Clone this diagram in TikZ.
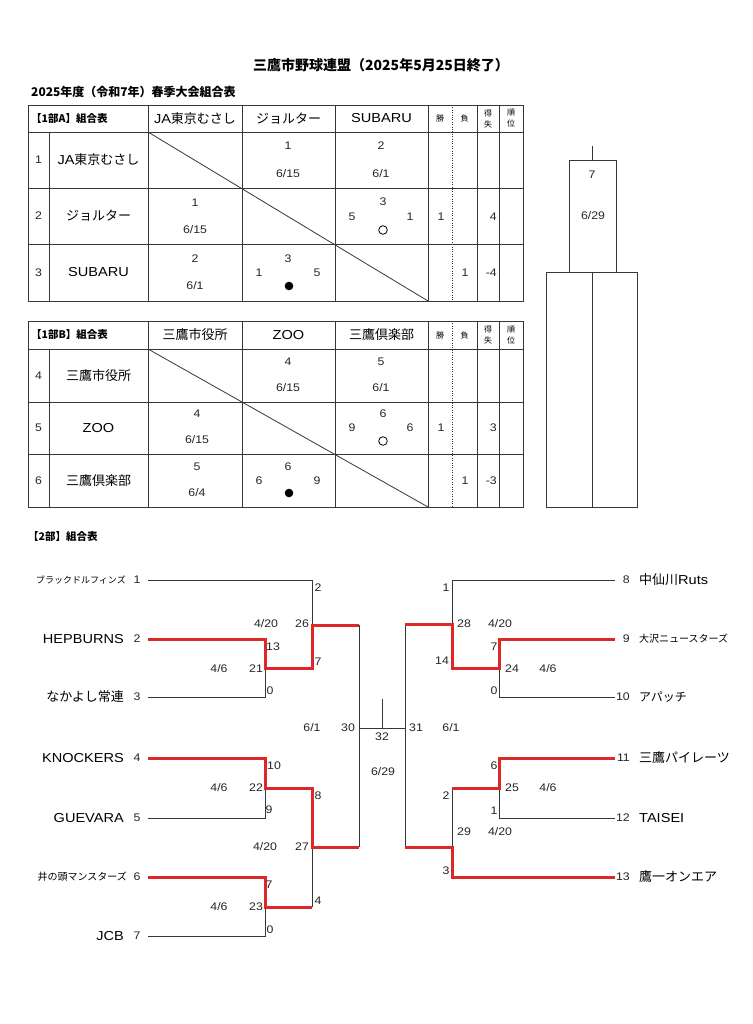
\documentclass[tikz,border=0pt]{standalone}
\usepackage{fontspec}
\setmainfont{Liberation Sans}[FakeStretch = 1.12]
\newfontfamily\jp{Noto Sans CJK JP}
\usetikzlibrary{positioning}

\definecolor{winred}{RGB}{222,40,40}
\definecolor{ink}{RGB}{55,55,55}

\tikzset{
	rule/.style = {line width = 0.8pt, draw = ink},
	link/.style = {line width = 1pt, draw = ink},
	winner/.style = {line width = 3pt, draw = winred},
	score/.style = {inner sep = 0pt, text = black!85, font = \fontsize{11}{12}\selectfont},
	cell/.style = {inner sep = 0pt, font = \jp\fontsize{13}{15}\selectfont},
	roman/.style = {inner sep = 0pt, font = \fontsize{13}{15}\selectfont},
	small/.style = {inner sep = 0pt, align = center, font = \jp\fontsize{8}{11}\selectfont},
	heading/.style = {inner sep = 0pt, anchor = west, font = \jp\bfseries\fontsize{10.5}{12}\selectfont}
}

\begin{document}
\begin{tikzpicture}[x = 1pt, y = -1pt]

	% Page

	\fill [white] (0, 0) rectangle (752, 1024);
	\useasboundingbox (0, 0) rectangle (752, 1024);

	% Titles

	\node [inner sep = 0pt, font = \jp\bfseries\fontsize{14}{16}\selectfont] (title) at (381, 65) {三鷹市野球連盟（2025年5月25日終了）};
	\node [heading, font = \jp\bfseries\fontsize{12}{14}\selectfont] (season) at (31, 92) {2025年度（令和7年）春季大会組合表};

	% Grids of the two league tables

	\foreach \t/\h/\a/\b/\e in {105/132/188/244/301, 321/349/402/454/507}
	{
		\draw [rule] (28, \t) rectangle (523, \e);
		\foreach \y in {\h, \a, \b}
			\draw [rule] (28, \y) -- (523, \y);
		\draw [rule] (49, \h) -- (49, \e);
		\foreach \x in {148, 242, 335, 428, 477, 499}
			\draw [rule] (\x, \t) -- (\x, \e);
		\draw [ink, dotted, thin] (452, \t) -- (452, \e);
		\draw [rule] (148, \h) -- (428, \e);
	}

	% Column heads

	\foreach \y/\s in {118.5/A, 335/B}
	{
		\node [small] (win\s) at (440, \y) {勝};
		\node [small] (loss\s) at (464.5, \y) {負};
		\node [small] (diff\s) at (488, \y) {得\\失};
		\node [small] (rank\s) at (511, \y) {順\\位};
	}

	% Table 1A

	\node [heading] (headA) at (31, 118.5) {【1部A】組合表};
	\node [cell] (colA1) at (195, 118.5) {{\rmfamily JA}東京むさし};
	\node [cell] (colA2) at (288.5, 118.5) {ジョルター};
	\node [roman] (colA3) at (381.5, 118.5) {SUBARU};

	\node [score] (noA1) at (38.5, 160) {1};
	\node [cell] (teamA1) at (98.5, 160) {{\rmfamily JA}東京むさし};
	\node [score] (noA2) at (38.5, 216) {2};
	\node [cell] (teamA2) at (98.5, 216) {ジョルター};
	\node [score] (noA3) at (38.5, 272.5) {3};
	\node [roman] (teamA3) at (98.5, 272.5) {SUBARU};

	\foreach \x/\y/\t [count = \i] in {288/146/1, 288/174/{6/15}, 381/146/2, 381/174/{6/1},
		195/203/1, 195/230/{6/15}, 383/202/3, 352/217/5, 410/217/1, 441/217/1,
		195/259/2, 195/286/{6/1}, 288/259/3, 259/273/1, 317/273/5, 465/273/1}
		\node [score] (sa\i) at (\x, \y) {\t};

	\node [score, anchor = east] (ptA2) at (497, 217) {4};
	\node [score, anchor = east] (ptA3) at (497, 273) {-4};
	\draw [line width = 0.8pt] (383, 230) circle (4.3pt);
	\fill (289, 286) circle (4.3pt);

	% Table 1B

	\node [heading] (headB) at (31, 335) {【1部B】組合表};
	\node [cell] (colB1) at (195, 335) {三鷹市役所};
	\node [roman] (colB2) at (288.5, 335) {ZOO};
	\node [cell] (colB3) at (381.5, 335) {三鷹倶楽部};

	\node [score] (noB1) at (38.5, 375.5) {4};
	\node [cell] (teamB1) at (98.5, 375.5) {三鷹市役所};
	\node [score] (noB2) at (38.5, 428) {5};
	\node [roman] (teamB2) at (98.5, 428) {ZOO};
	\node [score] (noB3) at (38.5, 480.5) {6};
	\node [cell] (teamB3) at (98.5, 480.5) {三鷹倶楽部};

	\foreach \x/\y/\t [count = \i] in {288/362/4, 288/388/{6/15}, 381/362/5, 381/388/{6/1},
		197/414/4, 197/440/{6/15}, 383/414/6, 352/428/9, 410/428/6, 441/428/1,
		197/467/5, 197/493/{6/4}, 288/467/6, 259/481/6, 317/481/9, 465/481/1}
		\node [score] (sb\i) at (\x, \y) {\t};

	\node [score, anchor = east] (ptB2) at (497, 428) {3};
	\node [score, anchor = east] (ptB3) at (497, 481) {-3};
	\draw [line width = 0.8pt] (383, 441) circle (4.3pt);
	\fill (289, 493) circle (4.3pt);

	% Play-off box

	\draw [rule] (592, 146) -- (592, 160);
	\draw [rule] (569, 160) rectangle (616, 272);
	\draw [rule] (546, 272) rectangle (637, 507);
	\draw [rule] (592, 272) -- (592, 507);
	\node [score] (poA) at (592, 175) {7};
	\node [score] (poB) at (593, 216) {6/29};

	% Division 2 bracket: teams

	\node [heading] (headC) at (28, 537) {【2部】組合表};

	\foreach \i/\y in {1/580, 2/639, 3/697, 4/758, 5/818, 6/877, 7/936}
	{
		\node [score] (n\i) at (137, \y) {\i};
		\coordinate (s\i) at (148, \y);
	}
	\foreach \i/\y in {8/580, 9/639, 10/697, 11/758, 12/818, 13/877}
	{
		\node [score, anchor = east] (n\i) at (630, \y) {\i};
		\coordinate (s\i) at (615, \y);
	}

	\node [cell, anchor = east, font = \jp\fontsize{9}{10}\selectfont] (t1) at (126, 580) {ブラックドルフィンズ};
	\node [roman, anchor = east] (t2) at (124, 639) {HEPBURNS};
	\node [cell, anchor = east] (t3) at (124, 697) {なかよし常連};
	\node [roman, anchor = east] (t4) at (124, 758) {KNOCKERS};
	\node [roman, anchor = east] (t5) at (124, 818) {GUEVARA};
	\node [cell, anchor = east, font = \jp\fontsize{10}{12}\selectfont] (t6) at (127, 877) {井の頭マンスターズ};
	\node [roman, anchor = east] (t7) at (124, 936) {JCB};

	\node [cell, anchor = west] (t8) at (639, 580) {中仙川{\rmfamily Ruts}};
	\node [cell, anchor = west, font = \jp\fontsize{10}{12}\selectfont] (t9) at (639, 639) {大沢ニュースターズ};
	\node [cell, anchor = west, font = \jp\fontsize{12}{14}\selectfont] (t10) at (639, 697) {アパッチ};
	\node [cell, anchor = west] (t11) at (639, 758) {三鷹パイレーツ};
	\node [roman, anchor = west] (t12) at (639, 818) {TAISEI};
	\node [cell, anchor = west] (t13) at (639, 877) {鷹一オンエア};

	% Junctions

	\coordinate (mA) at (265, 668);
	\coordinate (mB) at (312, 625);
	\coordinate (mC) at (265, 788);
	\coordinate (mD) at (265, 907);
	\coordinate (mE) at (312, 847);
	\coordinate (mL) at (359, 728);
	\coordinate (mF) at (499, 668);
	\coordinate (mG) at (452, 624);
	\coordinate (mH) at (499, 788);
	\coordinate (mI) at (452, 847);
	\coordinate (mR) at (405, 728);
	\coordinate (mX) at (382, 728);
	\coordinate (top) at (382, 699);

	% Lost games

	\draw [link] (s1) -| (mB);
	\draw [link] (s3) -| (mA);
	\draw [link] (s5) -| (mC);
	\draw [link] (s7) -| (mD);
	\draw [link] (mD -| mE) -- (mE);
	\draw [link] (mB -| mL) -- (mE -| mL);
	\draw [link] (mL) -- (mR);
	\draw [link] (mX) -- (top);
	\draw [link] (mG -| mR) -- (mI -| mR);
	\draw [link] (s8) -| (mG);
	\draw [link] (s10) -| (mF);
	\draw [link] (s12) -| (mH);
	\draw [link] (mH -| mI) -- (mI);

	% Won games

	\draw [winner] (s2) -| (mA) -| (mB) -- (mB -| mL);
	\draw [winner] (s4) -| (mC) -| (mE) -- (mE -| mL);
	\draw [winner] (s6) -| (mD) -- (mD -| mE);
	\draw [winner] (s9) -| (mF) -| (mG) -- (mG -| mR);
	\draw [winner] (s11) -| (mH) -- (mH -| mI);
	\draw [winner] (s13) -| (mI) -- (mI -| mR);

	% Scores and dates

	\foreach \x/\y/\t [count = \i] in {318/588/2, 266/624/{4/20}, 302/624/26, 273/647/13,
		219/669/{4/6}, 256/669/21, 318/662/7, 270/691/0,
		274/766/10, 219/788/{4/6}, 256/788/22, 318/796/8, 269/810/9,
		265/847/{4/20}, 302/847/27, 269/885/7, 318/901/4, 219/907/{4/6}, 256/907/23, 270/930/0,
		312/728/{6/1}, 348/728/30, 382/737/32, 383/772/{6/29}, 416/728/31, 451/728/{6/1},
		446/588/1, 464/624/28, 500/624/{4/20}, 494/647/7, 442/661/14,
		512/669/24, 548/669/{4/6}, 494/691/0,
		494/766/6, 512/788/25, 548/788/{4/6}, 446/796/2, 494/811/1,
		464/832/29, 500/832/{4/20}, 446/871/3}
		\node [score] (lab\i) at (\x, \y) {\t};

\end{tikzpicture}
\end{document}
